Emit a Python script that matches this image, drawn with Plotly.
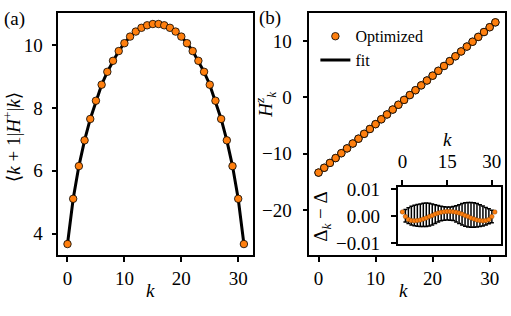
import plotly.graph_objects as go

# ---------------- data ----------------
k_left = list(range(32))
hplus = [3.67, 5.11, 6.15, 6.97, 7.65, 8.23, 8.74, 9.15, 9.50, 9.81, 10.06, 10.27,
         10.43, 10.55, 10.63, 10.67, 10.67, 10.63, 10.55, 10.43, 10.27, 10.06, 9.81,
         9.50, 9.15, 8.74, 8.23, 7.65, 6.97, 6.15, 5.11, 3.67]

k_right = list(range(32))
hz = [-13.35, -12.49, -11.63, -10.77, -9.91, -9.05, -8.19, -7.33, -6.47, -5.61,
      -4.75, -3.89, -3.03, -2.17, -1.31, -0.45, 0.41, 1.27, 2.13, 2.99, 3.85, 4.71,
      5.57, 6.43, 7.29, 8.15, 9.01, 9.87, 10.73, 11.59, 12.45, 13.31]

delta = [0.0016, -0.0001, -0.0012, -0.0016, -0.0017, -0.0016, -0.0014, -0.0010,
         -0.0006, -0.0001, 0.0003, 0.0008, 0.0012, 0.0015, 0.0017, 0.0018, 0.0018,
         0.0017, 0.0015, 0.0012, 0.0008, 0.0003, -0.0001, -0.0006, -0.0010, -0.0014,
         -0.0016, -0.0017, -0.0016, -0.0012, -0.0001, 0.0016]
delta_upper = [0.0016, 0.0025, 0.0032, 0.0037, 0.0041, 0.0044, 0.0046, 0.0048,
               0.0049, 0.0048, 0.0046, 0.0043, 0.0040, 0.0037, 0.0035, 0.0034,
               0.0034, 0.0036, 0.0039, 0.0043, 0.0047, 0.0050, 0.0051, 0.0051,
               0.0050, 0.0047, 0.0043, 0.0038, 0.0033, 0.0028, 0.0022, 0.0016]
delta_lower = [0.0016, -0.0021, -0.0027, -0.0032, -0.0035, -0.0037, -0.0038, -0.0038,
               -0.0038, -0.0036, -0.0032, -0.0027, -0.0021, -0.0017, -0.0015, -0.0014,
               -0.0015, -0.0016, -0.0021, -0.0027, -0.0032, -0.0037, -0.0040, -0.0041,
               -0.0041, -0.0040, -0.0038, -0.0036, -0.0032, -0.0028, -0.0024, 0.0016]

err_plus = [u - d for u, d in zip(delta_upper, delta)]
err_minus = [d - l for d, l in zip(delta, delta_lower)]

# ---------------- figure ----------------
W, H = 511, 316
ORANGE = "#ff7f0e"
FONT = "'Liberation Serif', 'Times New Roman', 'DejaVu Serif', serif"
FS = 19

fig = go.Figure()

# left panel
fig.add_trace(go.Scatter(x=k_left, y=hplus, mode="lines", line=dict(color="black", width=3),
                         showlegend=False, xaxis="x", yaxis="y"))
fig.add_trace(go.Scatter(x=k_left, y=hplus, mode="markers",
                         marker=dict(color=ORANGE, size=7.5, line=dict(color="black", width=0.8)),
                         showlegend=False, xaxis="x", yaxis="y"))

# right panel
fig.add_trace(go.Scatter(x=k_right, y=hz, mode="markers", name="Optimized",
                         marker=dict(color=ORANGE, size=7.5, line=dict(color="black", width=0.8)),
                         xaxis="x2", yaxis="y2"))
fig.add_trace(go.Scatter(x=k_right, y=hz, mode="lines", name="fit",
                         line=dict(color="black", width=3), xaxis="x2", yaxis="y2"))
fig.add_trace(go.Scatter(x=k_right, y=hz, mode="markers", showlegend=False,
                         marker=dict(color=ORANGE, size=7.5, line=dict(color="black", width=0.8)),
                         xaxis="x2", yaxis="y2"))

# inset
fig.add_trace(go.Scatter(x=k_right, y=delta, mode="markers", showlegend=False,
                         marker=dict(color=ORANGE, size=4.5, line=dict(color="#7a3a00", width=0.4)),
                         error_y=dict(type="data", symmetric=False, array=err_plus,
                                      arrayminus=err_minus, color="black", thickness=1.5, width=2),
                         xaxis="x3", yaxis="y3"))

def px(x):
    return x / W

def py(y):
    return 1 - y / H

axis_common = dict(showline=True, linewidth=1.5, linecolor="black", mirror=True,
                   ticks="outside", ticklen=5, tickwidth=1.5, tickcolor="black",
                   showgrid=False, zeroline=False,
                   tickfont=dict(family=FONT, size=FS, color="black"))

fig.update_layout(
    width=W, height=H,
    margin=dict(l=0, r=0, t=0, b=0),
    paper_bgcolor="white", plot_bgcolor="white",
    font=dict(family=FONT, size=FS, color="black"),
    xaxis=dict(domain=[px(58.5), px(253.5)], range=[-1.6, 32.6], anchor="y",
               tickvals=[0, 10, 20, 30], **axis_common),
    yaxis=dict(domain=[py(262.3), py(5)], range=[3.31, 11.03], anchor="x",
               tickvals=[4, 6, 8, 10], ticklabelstandoff=5, **axis_common),
    xaxis2=dict(domain=[px(310), px(505.5)], range=[-1.6, 32.6], anchor="y2",
                tickvals=[0, 10, 20, 30], **axis_common),
    yaxis2=dict(domain=[py(262.3), py(5)], range=[-28.03, 15.02], anchor="x2",
                tickvals=[-20, -10, 0, 10], ticklabelstandoff=7, **axis_common),
    xaxis3=dict(domain=[px(398.3), px(501.5)], range=[-1.65, 32.9], anchor="y3",
                side="top", tickvals=[0, 15, 30], ticklabelstandoff=5, **axis_common),
    yaxis3=dict(domain=[py(250), py(190)], range=[-0.0102, 0.0108], anchor="x3",
                tickvals=[-0.01, 0, 0.01], ticktext=["\u22120.01", "0.00", "0.01"],
                ticklabelstandoff=7, **axis_common),
    legend=dict(x=px(316), y=py(12), xanchor="left", yanchor="top",
                bgcolor="rgba(255,255,255,0)", borderwidth=0,
                font=dict(family=FONT, size=16, color="black"),
                itemwidth=30, tracegroupgap=0),
)

ann = [
    dict(text="(a)", x=px(15), y=py(12)),
    dict(text="(b)", x=px(271), y=py(11)),
    dict(text="<i>k</i>", x=px(151), y=py(300)),
    dict(text="<i>k</i>", x=px(404), y=py(300)),
    dict(text="<i>k</i>", x=px(448), y=py(139)),
    dict(text="\u27e8<i>k</i> + 1|<i>H</i><sup>+</sup>|<i>k</i>\u27e9", x=px(12), y=py(137), textangle=-90),
    dict(text="<i>H</i><sup><i>z</i></sup><sub><i>k</i></sub>", x=px(266), y=py(102), textangle=-90),
    dict(text="\u0394<sub><i>k</i></sub> \u2212 \u0394", x=px(323), y=py(221), textangle=-90),
]
fig.update_layout(annotations=[dict(xref="paper", yref="paper", showarrow=False,
                                    xanchor="center", yanchor="middle",
                                    font=dict(family=FONT, size=FS, color="black"), **a)
                               for a in ann])

fig.write_html("out.html")
